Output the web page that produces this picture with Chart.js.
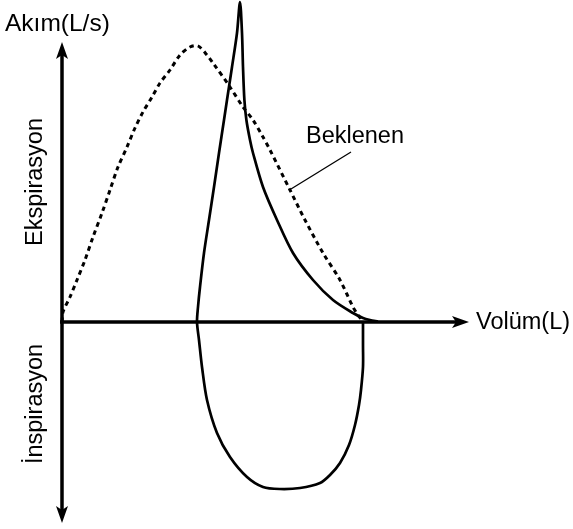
<!DOCTYPE html>
<html>
<head>
<meta charset="utf-8">
<script src="https://cdn.jsdelivr.net/npm/chart.js@4.4.1/dist/chart.umd.min.js"></script>
<style>
html,body{margin:0;padding:0;background:#fff;}
#wrap{width:573px;height:529px;}
</style>
</head>
<body>
<div id="wrap"><canvas id="c" width="573" height="529"></canvas></div>
<script>
// Expected (Beklenen) flow-volume curve: volume (L), flow (L/s)
const expectedVolume = [0,0.025,0.2,0.375,0.575,0.775,1.0,1.2,1.4,1.625,1.825,2.025,2.25,2.45,2.7,2.95,3.2,3.4,3.625,3.775,4.2,4.525,4.775,5.025,5.2,5.7,6.075,6.525,6.95,7.275,7.4,7.5];
const expectedFlow   = [0,0.25,0.625,1.05,1.55,2.125,2.725,3.3,3.875,4.375,4.85,5.25,5.625,5.975,6.3,6.675,6.875,6.9,6.675,6.475,5.875,5.375,5.05,4.625,4.3,3.3,2.55,1.725,1.05,0.375,0.175,0.05];

// Measured loop: inspiration (below axis) then expiration with sharp spike
const loopVolume = [7.525,7.525,7.525,7.475,7.425,7.325,7.175,6.95,6.7,6.45,5.95,5.45,5.025,4.625,4.2,3.875,3.625,3.5,3.425,3.375,
                    3.4,3.45,3.55,3.675,3.8,3.925,4.05,4.125,4.25,4.375,4.45,
                    4.5,4.525,4.56,4.61,4.7,4.775,5.025,5.375,5.775,6.275,6.775,7.275,7.525,7.7,7.9];
const loopFlow   = [0,-0.575,-1.125,-1.7,-2.075,-2.575,-3.075,-3.525,-3.825,-4.025,-4.15,-4.175,-4.125,-3.875,-3.375,-2.775,-1.95,-1.125,-0.45,0,
                    0.375,0.875,1.725,2.55,3.375,4.225,5.05,5.55,6.375,7.225,8.0,
                    7.225,6.375,5.55,5.05,4.55,4.225,3.375,2.55,1.725,1.05,0.55,0.225,0.1,0.05,0.0125];

// Leader line for the "Beklenen" label
const leaderVolume = [5.725, 7.225];
const leaderFlow   = [3.325, 4.25];

const labels = {
  yTitle: "Akım(L/s)",
  xTitle: "Volüm(L)",
  upper: "Ekspirasyon",
  lower: "İnspirasyon",
  expected: "Beklenen"
};

const toPts = (xs, ys) => xs.map((x, i) => ({x: x, y: ys[i]}));

const axesPlugin = {
  id: 'axesPlugin',
  afterDatasetsDraw(chart) {
    const ctx = chart.ctx;
    const xs = chart.scales.x, ys = chart.scales.y;
    const x0 = xs.getPixelForValue(0), y0 = ys.getPixelForValue(0);
    const xEnd = xs.getPixelForValue(10.175);
    const yTop = ys.getPixelForValue(7.0);
    const yBot = ys.getPixelForValue(-5.025);
    ctx.save();
    ctx.strokeStyle = '#000';
    ctx.fillStyle = '#000';
    ctx.lineWidth = 3.5;
    ctx.lineCap = 'butt';
    ctx.beginPath();
    ctx.moveTo(x0, yTop + 10);
    ctx.lineTo(x0, yBot - 10);
    ctx.stroke();
    ctx.beginPath();
    ctx.moveTo(x0 - 2, y0);
    ctx.lineTo(xEnd - 10, y0);
    ctx.stroke();
    function head(tx, ty, dx, dy) {
      const L = 17, W = 6, N = 13;
      const px = -dy, py = dx;
      ctx.beginPath();
      ctx.moveTo(tx, ty);
      ctx.lineTo(tx - dx*L + px*W, ty - dy*L + py*W);
      ctx.lineTo(tx - dx*N, ty - dy*N);
      ctx.lineTo(tx - dx*L - px*W, ty - dy*L - py*W);
      ctx.closePath();
      ctx.fill();
    }
    head(x0, yTop, 0, -1);
    head(x0, yBot, 0, 1);
    head(xEnd, y0, 1, 0);

    ctx.textBaseline = 'alphabetic';
    ctx.textAlign = 'left';
    ctx.font = '24.5px "Liberation Sans", Arial, sans-serif';
    ctx.fillText(labels.yTitle, 5, 31);
    ctx.font = '23.5px "Liberation Sans", Arial, sans-serif';
    ctx.fillText(labels.xTitle, 476, 329);
    ctx.fillText(labels.expected, 306, 143);
    ctx.textAlign = 'center';
    ctx.save();
    ctx.translate(42, 182);
    ctx.rotate(-Math.PI/2);
    ctx.fillText(labels.upper, 0, 0);
    ctx.restore();
    ctx.save();
    ctx.translate(42, 404);
    ctx.rotate(-Math.PI/2);
    ctx.fillText(labels.lower, 0, 0);
    ctx.restore();
    ctx.restore();
  }
};

new Chart(document.getElementById('c'), {
  type: 'scatter',
  data: {
    datasets: [
      {
        label: 'Beklenen',
        data: toPts(expectedVolume, expectedFlow),
        showLine: true,
        borderColor: '#000',
        borderWidth: 3,
        borderDash: [4.5, 4],
        pointRadius: 0,
        tension: 0.3,
        fill: false,
        clip: false
      },
      {
        label: 'Ölçülen',
        data: toPts(loopVolume, loopFlow),
        showLine: true,
        borderColor: '#000',
        borderWidth: 2.7,
        pointRadius: 0,
        tension: 0.3,
        fill: false,
        clip: false
      },
      {
        label: 'leader',
        data: toPts(leaderVolume, leaderFlow),
        showLine: true,
        borderColor: '#000',
        borderWidth: 1.3,
        pointRadius: 0,
        tension: 0,
        fill: false
      }
    ]
  },
  options: {
    responsive: false,
    animation: false,
    devicePixelRatio: 1,
    layout: {padding: 0},
    plugins: {legend: {display: false}, tooltip: {enabled: false}},
    scales: {
      x: {type: 'linear', display: false, min: -1.55, max: 12.775},
      y: {type: 'linear', display: false, min: -5.175, max: 8.05}
    }
  },
  plugins: [axesPlugin]
});
</script>
</body>
</html>
